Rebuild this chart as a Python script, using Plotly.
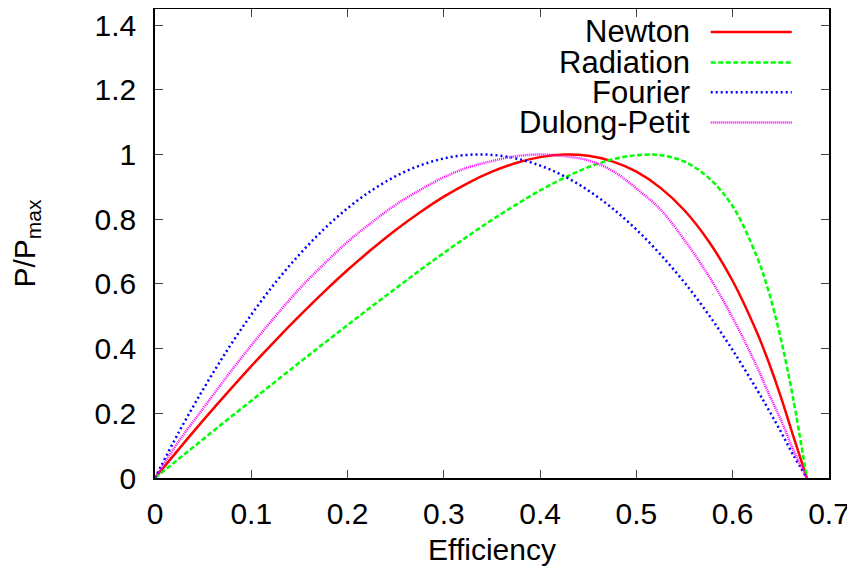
import plotly.graph_objects as go

# efficiency grid
eff = [0, 0.025, 0.05, 0.075, 0.1, 0.125, 0.15, 0.175, 0.2, 0.225, 0.25, 0.275,
       0.3, 0.325, 0.35, 0.375, 0.4, 0.425, 0.45, 0.475, 0.5, 0.525, 0.55,
       0.575, 0.6, 0.625, 0.6375, 0.65, 0.6625, 0.677]

newton = [0, 0.090, 0.178, 0.263, 0.346, 0.425, 0.501, 0.574, 0.643, 0.707,
          0.767, 0.821, 0.870, 0.912, 0.947, 0.974, 0.992, 1.000, 0.996, 0.979,
          0.947, 0.897, 0.827, 0.732, 0.609, 0.451, 0.357, 0.251, 0.133, 0]
radiation = [0, 0.060, 0.120, 0.180, 0.239, 0.298, 0.357, 0.415, 0.473, 0.530,
             0.586, 0.642, 0.696, 0.748, 0.798, 0.845, 0.889, 0.928, 0.961, 0.985,
             0.998, 0.998, 0.978, 0.928, 0.840, 0.685, 0.575, 0.430, 0.250, 0]
fourier = [0, 0.143, 0.274, 0.395, 0.505, 0.604, 0.691, 0.768, 0.834, 0.889,
           0.933, 0.966, 0.988, 0.999, 0.999, 0.988, 0.966, 0.933, 0.889, 0.834,
           0.768, 0.691, 0.604, 0.505, 0.395, 0.274, 0.210, 0.143, 0.073, 0]
dulong_petit = [0, 0.115, 0.215, 0.315, 0.410, 0.500, 0.585, 0.660, 0.730, 0.790,
                0.845, 0.890, 0.930, 0.960, 0.980, 0.995, 1.000, 0.995, 0.982, 0.950,
                0.895, 0.830, 0.735, 0.625, 0.495, 0.345, 0.260, 0.180, 0.090, 0]

names = ["Newton", "Radiation", "Fourier", "Dulong-Petit"]
series = [newton, radiation, fourier, dulong_petit]
colors = ["#ff0000", "#00ff00", "#0000ff", "#ff00ff"]
dashes = ["solid", "5px,2.5px", "2px,3px", "1px,1px"]
widths = [2.5, 2.5, 2.5, 2.5]

font = "Liberation Sans, Arial, sans-serif"

fig = go.Figure()
for name, ys, c, d, w in zip(names, series, colors, dashes, widths):
    fig.add_trace(go.Scatter(x=eff, y=ys, mode="lines", name=name,
                             line=dict(color=c, dash=d, width=w, shape="spline"),
                             showlegend=False))

# gnuplot-style key: text on the left, sample line on the right
key_y = [0.9512, 0.886, 0.8223, 0.758]
for name, c, d, w, ky in zip(names, colors, dashes, widths, key_y):
    fig.add_annotation(x=0.7963, y=ky, xref="paper", yref="paper", text=name,
                       showarrow=False, xanchor="right", yanchor="middle",
                       font=dict(family=font, size=31, color="black"))
    fig.add_shape(type="line", xref="paper", yref="paper", x0=0.8245, x1=0.9447,
                  y0=ky, y1=ky, line=dict(color=c, dash=d, width=w))

axis_common = dict(showline=True, linecolor="black", linewidth=1.5, mirror="ticks",
                   ticks="inside", ticklen=8, tickwidth=1, tickcolor="#444",
                   showgrid=False, zeroline=False, automargin=False,
                   ticklabeloverflow="allow",
                   tickfont=dict(family=font, size=30, color="black"))

# the page body adds an 8px offset, so margins are shifted to compensate
fig.update_layout(
    width=855, height=570,
    margin=dict(l=147, r=34, t=1, b=100),
    plot_bgcolor="white", paper_bgcolor="white",
    font=dict(family=font, size=30, color="black"),
    xaxis=dict(range=[0, 0.7], dtick=0.1, tick0=0, ticklabelstandoff=8,
               title=dict(text="Efficiency", standoff=10,
                          font=dict(family=font, size=30)), **axis_common),
    yaxis=dict(range=[0, 1.45], dtick=0.2, tick0=0, ticklabelstandoff=11,
               title=dict(text="P/P<sub>max</sub>", standoff=50,
                          font=dict(family=font, size=30)), **axis_common),
)

fig.write_html("out.html")
